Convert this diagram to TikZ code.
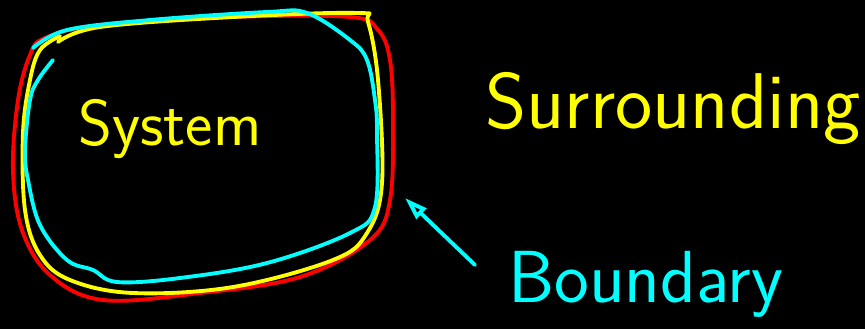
\documentclass[tikz,border=0pt]{standalone}
\usetikzlibrary{arrows.meta}
\definecolor{inkred}{RGB}{255,0,0}
\definecolor{inkyellow}{RGB}{255,255,0}
\definecolor{inkcyan}{RGB}{0,255,255}
\tikzset{
  pen/.style={line width=2.2pt,line cap=round,line join=round},
  word/.style={anchor=base west,inner sep=0pt},
}
\begin{document}
\begin{tikzpicture}[x=0.02cm,y=-0.02cm]
  \fill[black] (0,0) rectangle (865,329);
  \useasboundingbox (0,0) rectangle (865,329);
  % the three loops
  \draw[pen,inkred] plot[smooth cycle,tension=0.6] coordinates {(45,38) (100,25) (230,17) (350,17) (378,30) (390,60) (393,120) (390,200) (370,240) (300,277) (200,293) (103,300) (50,275) (22,230) (13,170) (18,100) (30,55)};
  \draw[pen,inkyellow] plot[smooth,tension=0.6] coordinates {(58,42) (100,27) (233,17) (357,13) (368,22) (378,80) (382,183) (367,233) (333,260) (233,287) (133,293) (70,280) (40,255) (25,210) (23,133) (30,80) (40,50) (60,36)};
  \draw[pen,inkcyan] plot[smooth,tension=0.6] coordinates {(33,48) (67,30) (150,20) (267,12) (307,13) (350,40) (367,60) (375,100) (377,133) (375,207) (350,233) (267,263) (180,278) (117,282) (93,270) (67,260) (40,225) (28,180) (25,150) (30,100) (38,80) (53,60)};
  % labels
  \node[word,inkyellow,font=\sffamily\fontsize{37}{44}\selectfont] (sys) at (78,145) {System};
  \node[word,inkyellow,font=\sffamily\fontsize{45}{54}\selectfont] (sur) at (485,128) {Surrounding};
  \node[word,inkcyan,font=\sffamily\fontsize{42}{50}\selectfont] (bnd) at (508,302) {Boundary};
  \coordinate (tail) at (475,265);
  \coordinate (tip) at (405,198);
  \draw[pen,inkcyan,-{Triangle[open,length=13pt,width=8pt]}] (tail) -- (tip);
\end{tikzpicture}
\end{document}
